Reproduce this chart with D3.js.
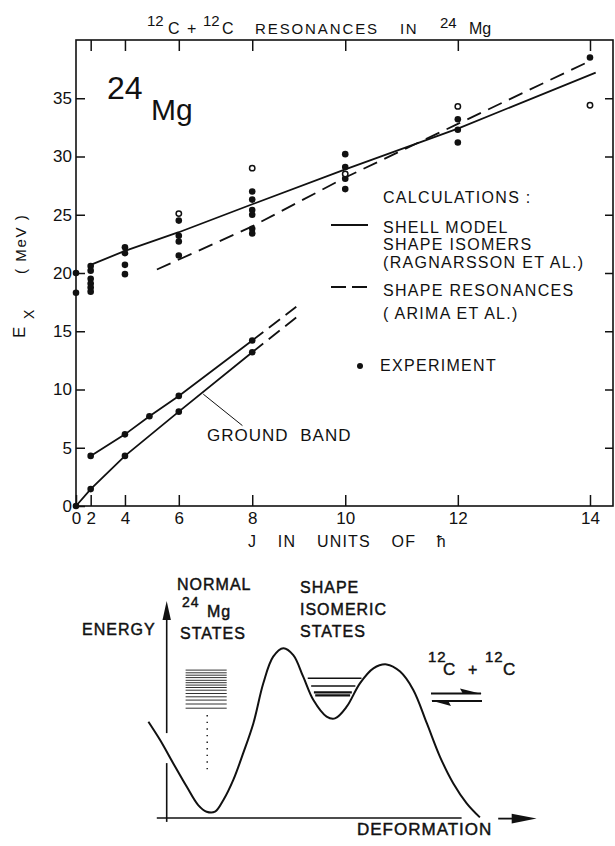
<!DOCTYPE html>
<html>
<head>
<meta charset="utf-8">
<script src="https://cdnjs.cloudflare.com/ajax/libs/d3/7.8.5/d3.min.js"></script>
<style>
  body { margin: 0; background: #fff; }
  svg { display: block; }
  text { font-family: "Liberation Sans", Arial, sans-serif; fill: #111; }
</style>
</head>
<body>
<svg id="chart" width="615" height="846"></svg>
<script>
// ---- data : upper panel (J, Ex in MeV) ----
var jTicks = [0, 2, 4, 6, 8, 10, 12, 14];
var eTicks = [0, 5, 10, 15, 20, 25, 30, 35];

var expFilled = [
  [0, 18.3], [0, 20.0],
  [2, 20.6], [2, 20.2], [2, 19.5], [2, 19.1], [2, 18.75], [2, 18.4],
  [4, 22.2], [4, 21.7], [4, 20.7], [4, 19.9],
  [6, 24.5], [6, 23.2], [6, 22.7], [6, 21.5],
  [8, 27.0], [8, 26.3], [8, 25.4], [8, 25.0], [8, 23.8], [8, 23.4],
  [10, 30.2], [10, 29.1], [10, 28.1], [10, 27.2],
  [12, 33.2], [12, 32.3], [12, 31.2],
  [14, 38.5]
];
var expOpen = [[6, 25.1], [8, 29.0], [10, 28.5], [12, 34.3], [14, 34.4]];

// shell model shape isomers (solid) and shape resonances (dashed)
var shellJ = [2, 4, 6, 8, 10, 12, 14.08];
var shellE = [20.7, 21.9, 23.5, 25.9, 28.9, 32.4, 37.2];
var arimaJ = [5.27, 8, 10, 12, 14];
var arimaE = [20.3, 24.0, 28.2, 32.8, 38.2];

// ground band and K=2 band
var gsbJ = [0, 2, 4, 6, 8];
var gsbE = [0, 1.45, 4.3, 8.1, 13.2];
var gsbExtJ = [8, 9.1];
var gsbExtE = [13.2, 16.5];
var gamJ = [2, 4, 5, 6, 8];
var gamE = [4.3, 6.15, 7.7, 9.45, 14.2];
var gamExtJ = [8, 9.0];
var gamExtE = [14.2, 17.1];

// ---- data : lower schematic (deformation, energy in arbitrary units) ----
var potD = [-6.1, -2.2, 2.2, 6.7, 10.5, 13.3, 16.1, 18.9, 22.2, 25.5, 28.9, 32.2, 35.5, 38.9, 42.2,
            45.5, 48.9, 53.3, 56.1, 60, 64.4, 68.9, 73.3, 77.8, 82.2, 86.7, 91.1, 95.5, 100, 104.4];
var potE = [32.1, 26, 18.2, 10.4, 4.3, 2.1, 2.1, 6, 12.7, 21.6, 31.6, 44.9, 53.8, 56.6, 54.3,
            47.1, 39.3, 33.8, 33.2, 37.1, 44.9, 49.9, 51.2, 48.8, 42.7, 31.6, 20.4, 11.6, 4.9, 0.2];
var normalLevels = [49.3, 48.4, 47.6, 46.8, 45.9, 45.1, 44.3, 43.5, 42.6, 41.5, 40.4, 39.3, 38.0, 36.6];
var isomerLevels = [46.6, 44.0, 41.9, 40.9];

var INK = '#111';
var svg = d3.select('#chart');
svg.append('rect').attr('width', 615).attr('height', 846).attr('fill', '#fff');

// ============ upper panel ============
var x = d3.scaleLinear().domain([0, 219.4]).range([76, 613]);   // x is J(J+1)
var y = d3.scaleLinear().domain([0, 40]).range([506, 40]);
function jx(J) { return x(J * (J + 1)); }

var plot = svg.append('g');
var jVals = jTicks.map(function (j) { return j * (j + 1); });

function styleAxis(g) {
  g.select('.domain').remove();
  g.attr('color', INK);
  g.selectAll('line').attr('stroke-width', 1.5);
  g.selectAll('text').attr('font-size', 17);
}

plot.append('g').attr('transform', 'translate(0,506)')
  .call(d3.axisBottom(x).tickValues(jVals)
    .tickFormat(function (d, i) { return jTicks[i]; })
    .tickSize(-11).tickPadding(6))
  .call(styleAxis);
plot.append('g').attr('transform', 'translate(0,40)')
  .call(d3.axisTop(x).tickValues(jVals.slice(1)).tickFormat('').tickSize(-11))
  .call(styleAxis);
plot.append('g').attr('transform', 'translate(76,0)')
  .call(d3.axisLeft(y).tickValues(eTicks).tickSize(-9).tickPadding(4))
  .call(styleAxis);
plot.append('g').attr('transform', 'translate(613,0)')
  .call(d3.axisRight(y).tickValues(eTicks.slice(1)).tickFormat('').tickSize(-8))
  .call(styleAxis);

plot.append('rect')
  .attr('x', x(0)).attr('y', y(40))
  .attr('width', x(219.4) - x(0)).attr('height', y(0) - y(40))
  .attr('fill', 'none').attr('stroke', INK).attr('stroke-width', 1.6);

var line = d3.line()
  .x(function (d) { return jx(d[0]); })
  .y(function (d) { return y(d[1]); });

function zipJE(js, es) {
  return js.map(function (j, i) { return [j, es[i]]; });
}

function drawLine(pts, dash) {
  plot.append('path')
    .attr('d', line(pts))
    .attr('fill', 'none')
    .attr('stroke', INK)
    .attr('stroke-width', 1.8)
    .attr('stroke-dasharray', dash || null);
}

drawLine(zipJE(shellJ, shellE));
drawLine(zipJE(arimaJ, arimaE), '15,8');
drawLine(zipJE(gsbJ, gsbE));
drawLine(zipJE(gsbExtJ, gsbExtE), '14,7');
drawLine(zipJE(gamJ, gamE));
drawLine(zipJE(gamExtJ, gamExtE), '14,7');

// experiment points
var bandPts = zipJE(gsbJ, gsbE).concat(zipJE(gamJ, gamE));
plot.selectAll('circle.fill')
  .data(expFilled.concat(bandPts))
  .enter().append('circle')
  .attr('class', 'fill')
  .attr('cx', function (d) { return jx(d[0]); })
  .attr('cy', function (d) { return y(d[1]); })
  .attr('r', 3.3)
  .attr('fill', INK);

plot.selectAll('circle.open')
  .data(expOpen)
  .enter().append('circle')
  .attr('class', 'open')
  .attr('cx', function (d) { return jx(d[0]); })
  .attr('cy', function (d) { return y(d[1]); })
  .attr('r', 2.7)
  .attr('fill', '#fff')
  .attr('stroke', INK)
  .attr('stroke-width', 1.5);

// ground band label + leader
plot.append('line')
  .attr('x1', x(52)).attr('y1', y(9.6))
  .attr('x2', x(68)).attr('y2', y(6.9))
  .attr('stroke', INK).attr('stroke-width', 1);
plot.append('text')
  .attr('x', 207).attr('y', 441)
  .attr('font-size', 17).attr('letter-spacing', 1).attr('word-spacing', 6)
  .text('GROUND BAND');

// big nucleus label
plot.append('text').attr('x', 107).attr('y', 99).attr('font-size', 32).text('24');
plot.append('text').attr('x', 151).attr('y', 120).attr('font-size', 30).text('Mg');

// title
var title = [
  { t: '12', x: 147, y: 26, s: 15 },
  { t: 'C', x: 168, y: 34, s: 16 },
  { t: '+', x: 187, y: 34, s: 16 },
  { t: '12', x: 203, y: 26, s: 15 },
  { t: 'C', x: 222, y: 34, s: 16 },
  { t: 'RESONANCES', x: 255, y: 34, s: 15, ls: 1.9 },
  { t: 'IN', x: 400, y: 34, s: 15, ls: 1.5 },
  { t: '24', x: 440, y: 28, s: 15 },
  { t: 'Mg', x: 469, y: 34, s: 16 }
];
svg.selectAll('text.title')
  .data(title)
  .enter().append('text')
  .attr('class', 'title')
  .attr('x', function (d) { return d.x; })
  .attr('y', function (d) { return d.y; })
  .attr('font-size', function (d) { return d.s; })
  .attr('letter-spacing', function (d) { return d.ls || 0; })
  .text(function (d) { return d.t; });

// y axis title (rotated)
var yt = svg.append('g').attr('transform', 'translate(25,338) rotate(-90)');
yt.append('text').attr('x', 0).attr('y', 0).attr('font-size', 17).text('E');
yt.append('text').attr('x', 19).attr('y', 9).attr('font-size', 14).text('X');
yt.append('text').attr('x', 64).attr('y', 1).attr('font-size', 15)
  .attr('letter-spacing', 1.6).text('( MeV )');

// x axis title
svg.append('text')
  .attr('x', 248).attr('y', 547)
  .attr('font-size', 16).attr('letter-spacing', 1.2).attr('word-spacing', 15)
  .text('J IN UNITS OF \u0127');

// legend
var lg = svg.append('g').attr('font-size', 16).attr('letter-spacing', 1.3);
var legendRows = [
  { t: 'CALCULATIONS :', y: 203 },
  { t: 'SHELL MODEL', y: 233 },
  { t: 'SHAPE ISOMERS', y: 250 },
  { t: '(RAGNARSSON ET AL.)', y: 268 },
  { t: 'SHAPE RESONANCES', y: 296 },
  { t: '( ARIMA  ET AL.)', y: 319 },
  { t: 'EXPERIMENT', y: 371, x: 380 }
];
lg.selectAll('text')
  .data(legendRows)
  .enter().append('text')
  .attr('x', function (d) { return d.x || 383; })
  .attr('y', function (d) { return d.y; })
  .text(function (d) { return d.t; });
lg.append('line').attr('x1', 331).attr('x2', 368).attr('y1', 225).attr('y2', 225)
  .attr('stroke', INK).attr('stroke-width', 1.8);
lg.append('line').attr('x1', 331).attr('x2', 368).attr('y1', 287).attr('y2', 287)
  .attr('stroke', INK).attr('stroke-width', 1.8).attr('stroke-dasharray', '15,6');
lg.append('circle').attr('cx', 360).attr('cy', 366).attr('r', 3).attr('fill', INK);

// ============ lower schematic ============
var sx = d3.scaleLinear().domain([0, 100]).range([166.7, 466.7]);
var sy = d3.scaleLinear().domain([0, 60]).range([818, 638]);
var sch = svg.append('g');

// energy axis (broken where the curve crosses)
sch.append('line').attr('x1', sx(0)).attr('x2', sx(0)).attr('y1', sy(-1.3)).attr('y2', sy(18.3))
  .attr('stroke', INK).attr('stroke-width', 1.6);
sch.append('line').attr('x1', sx(0)).attr('x2', sx(0)).attr('y1', sy(28.3)).attr('y2', sy(68))
  .attr('stroke', INK).attr('stroke-width', 1.6);
sch.append('path')
  .attr('d', 'M' + sx(0) + ',' + sy(72.3) + 'L' + sx(1.4) + ',' + sy(66) + 'L' + sx(-1.4) + ',' + sy(66) + 'Z')
  .attr('fill', INK);

// deformation axis
sch.append('line').attr('x1', sx(-3.3)).attr('x2', sx(98.3)).attr('y1', sy(0)).attr('y2', sy(0))
  .attr('stroke', INK).attr('stroke-width', 1.6);
sch.append('line').attr('x1', sx(110.5)).attr('x2', sx(116)).attr('y1', sy(-0.2)).attr('y2', sy(-0.2))
  .attr('stroke', INK).attr('stroke-width', 1.8);
sch.append('path')
  .attr('d', 'M' + sx(123.3) + ',' + sy(-0.2) + 'L' + sx(115) + ',' + sy(1.4) + 'L' + sx(115) + ',' + sy(-1.8) + 'Z')
  .attr('fill', INK);

// potential energy curve
var potPts = potD.map(function (d, i) { return [d, potE[i]]; });
sch.append('path')
  .attr('d', d3.line()
    .x(function (d) { return sx(d[0]); })
    .y(function (d) { return sy(d[1]); })
    .curve(d3.curveCatmullRom.alpha(0.5))(potPts))
  .attr('fill', 'none').attr('stroke', INK).attr('stroke-width', 2);

// normal 24Mg states
sch.selectAll('line.normal')
  .data(normalLevels)
  .enter().append('line')
  .attr('class', 'normal')
  .attr('x1', sx(6.3)).attr('x2', sx(20))
  .attr('y1', function (d) { return sy(d); })
  .attr('y2', function (d) { return sy(d); })
  .attr('stroke', '#333').attr('stroke-width', 1);
sch.append('line')
  .attr('x1', sx(13.5)).attr('x2', sx(13.5)).attr('y1', sy(34.3)).attr('y2', sy(16))
  .attr('stroke', INK).attr('stroke-width', 1.4).attr('stroke-dasharray', '1.4,5.2');

// shape isomeric states, clipped to the second well
function wallAt(e, from, to) {
  for (var i = from; i !== to; i += (to > from ? 1 : -1)) {
    var j = i + (to > from ? 1 : -1);
    var a = potE[i], b = potE[j];
    if ((a - e) * (b - e) <= 0) {
      return potD[i] + (e - a) / (b - a) * (potD[j] - potD[i]);
    }
  }
  return potD[from];
}
var wellMin = 18;
sch.selectAll('line.iso')
  .data(isomerLevels)
  .enter().append('line')
  .attr('class', 'iso')
  .attr('x1', function (d) { return sx(wallAt(d, wellMin, 13) + 1.3); })
  .attr('x2', function (d) { return sx(wallAt(d, wellMin, 22) - 1.0); })
  .attr('y1', function (d) { return sy(d); })
  .attr('y2', function (d) { return sy(d); })
  .attr('stroke', INK)
  .attr('stroke-width', function (d, i) { return i < 2 ? 1.4 : 2.2; });

// equilibrium harpoons
sch.append('line').attr('x1', 431).attr('x2', 481).attr('y1', 693.5).attr('y2', 693.5)
  .attr('stroke', INK).attr('stroke-width', 1.8);
sch.append('path').attr('d', 'M482,694L460,688.5L463,694Z').attr('fill', INK);
sch.append('line').attr('x1', 432).attr('x2', 482).attr('y1', 701).attr('y2', 701)
  .attr('stroke', INK).attr('stroke-width', 1.8);
sch.append('path').attr('d', 'M431,700.5L451,706L448,700.5Z').attr('fill', INK);

// schematic labels
var schLabels = [
  { t: 'ENERGY', x: 82, y: 635, s: 16 },
  { t: 'NORMAL', x: 177, y: 590, s: 16 },
  { t: '24', x: 182, y: 607, s: 14 },
  { t: 'Mg', x: 207, y: 617, s: 16 },
  { t: 'STATES', x: 180, y: 639, s: 16 },
  { t: 'SHAPE', x: 300, y: 593, s: 16 },
  { t: 'ISOMERIC', x: 300, y: 615, s: 16 },
  { t: 'STATES', x: 300, y: 637, s: 16 },
  { t: '12', x: 428, y: 662, s: 15 },
  { t: 'C', x: 443, y: 675, s: 17 },
  { t: '+', x: 468, y: 675, s: 16 },
  { t: '12', x: 485, y: 662, s: 15 },
  { t: 'C', x: 503, y: 675, s: 17 },
  { t: 'DEFORMATION', x: 357, y: 835, s: 17 }
];
sch.selectAll('text')
  .data(schLabels)
  .enter().append('text')
  .attr('x', function (d) { return d.x; })
  .attr('y', function (d) { return d.y; })
  .attr('font-size', function (d) { return d.s; })
  .attr('letter-spacing', 1)
  .attr('stroke', INK).attr('stroke-width', 0.45)
  .text(function (d) { return d.t; });
</script>
</body>
</html>
